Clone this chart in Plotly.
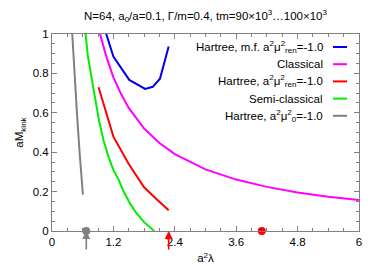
import plotly.graph_objects as go

# ---- data ----
hmf_x = [0.90, 1.06, 1.20, 1.51, 1.82, 1.97, 2.11, 2.28]
hmf_y = [1.13, 1.00, 0.886, 0.767, 0.721, 0.732, 0.773, 0.937]

cls_x = [0.94, 1.05, 1.2, 1.35, 1.5, 1.8, 2.1, 2.4, 3.0, 3.6, 4.2, 4.8, 5.4, 6.0]
cls_y = [1.00, 0.895, 0.78, 0.695, 0.625, 0.52, 0.447, 0.39, 0.313, 0.261, 0.224, 0.196, 0.174, 0.157]

har_x = [0.91, 1.2, 1.5, 1.8, 2.05, 2.28]
har_y = [0.730, 0.479, 0.340, 0.222, 0.160, 0.105]

semi_x = [0.656, 0.70, 0.78, 0.845, 0.92, 1.006, 1.10, 1.2, 1.3, 1.4, 1.527, 1.65, 1.8, 2.0]
semi_y = [1.00, 0.89, 0.767, 0.665, 0.56, 0.462, 0.38, 0.309, 0.262, 0.20, 0.139, 0.09, 0.045, 0.0]

h0_x = [0.396, 0.435, 0.487, 0.539, 0.604]
h0_y = [1.00, 0.80, 0.60, 0.40, 0.185]

dot_gray_x = [0.67]
dot_red_x = [4.10]
arrow_gray_x = 0.67
arrow_red_x = 2.28

x_ticks = [0, 1.2, 2.4, 3.6, 4.8, 6]
x_labels = ["0", "1.2", "2.4", "3.6", "4.8", "6"]
y_ticks = [0, 0.2, 0.4, 0.6, 0.8, 1.0]
y_labels = ["0", "0.2", "0.4", "0.6", "0.8", "1"]

legend_names = [
    "Hartree, m.f. a<sup>2</sup>μ<sup>2</sup><sub>ren</sub>=-1.0",
    "Classical",
    "Hartree, a<sup>2</sup>μ<sup>2</sup><sub>ren</sub>=-1.0",
    "Semi-classical",
    "Hartree, a<sup>2</sup>μ<sup>2</sup><sub>0</sub>=-1.0",
]
colors = ["#0000ee", "#ff00ff", "#ff0000", "#00ee00", "#808080"]

FONT = "Liberation Sans, Arial, sans-serif"
L, R, T, B = 52, 359, 34, 231
W, H = 380, 266

fig = go.Figure()

series = [(hmf_x, hmf_y), (cls_x, cls_y), (har_x, har_y), (semi_x, semi_y), (h0_x, h0_y)]
for (xs, ys), c, n in zip(series, colors, legend_names):
    fig.add_trace(go.Scatter(x=xs, y=ys, mode="lines", line=dict(color=c, width=2),
                             name=n, showlegend=False))

fig.add_trace(go.Scatter(x=dot_gray_x, y=[0] * len(dot_gray_x), mode="markers",
                         marker=dict(color="#808080", size=8), cliponaxis=False, showlegend=False))
fig.add_trace(go.Scatter(x=dot_red_x, y=[0] * len(dot_red_x), mode="markers",
                         marker=dict(color="#ff0000", size=8), cliponaxis=False, showlegend=False))

for ax_x, c in [(arrow_gray_x, "#808080"), (arrow_red_x, "#ff0000")]:
    fig.add_annotation(x=ax_x, y=0, xref="x", yref="y", ax=0, ay=20, text="",
                       showarrow=True, arrowhead=2, arrowsize=1, arrowwidth=1.6,
                       arrowcolor=c, standoff=0)

# manual legend (text right-aligned, sample line on right)
leg_y0 = 47
leg_dy = 17.2
for i, (n, c) in enumerate(zip(legend_names, colors)):
    ypx = leg_y0 + i * leg_dy
    yp = 1 - (ypx - T) / (B - T)
    fig.add_annotation(x=(325 - L) / (R - L), y=yp, xref="paper", yref="paper", text=n,
                       showarrow=False, xanchor="right", yanchor="middle",
                       font=dict(family=FONT, size=11.5, color="black"))
    fig.add_shape(type="line", xref="paper", yref="paper",
                  x0=(333 - L) / (R - L), x1=(347 - L) / (R - L), y0=yp, y1=yp,
                  line=dict(color=c, width=2))

axis_common = dict(showgrid=False, zeroline=False, showline=True, linecolor="#808080",
                   linewidth=1, mirror="ticks", ticks="inside", ticklen=5,
                   tickcolor="#808080", tickwidth=1, automargin=False,
                   tickfont=dict(family=FONT, size=11.5, color="black"))

fig.update_xaxes(range=[0, 6], tickvals=x_ticks, ticktext=x_labels,
                 minor=dict(dtick=0.3, ticks="inside", ticklen=3, tickcolor="#808080"),
                 title=dict(text="a<sup>2</sup>λ", font=dict(family=FONT, size=11.5), standoff=7),
                 **axis_common)
fig.update_yaxes(range=[0, 1], tickvals=y_ticks, ticktext=y_labels,
                 minor=dict(dtick=0.05, ticks="inside", ticklen=3, tickcolor="#808080"),
                 title=dict(text="aM<sub>kink</sub>", font=dict(family=FONT, size=11.5), standoff=6),
                 **axis_common)

fig.update_layout(
    width=W, height=H, autosize=False,
    margin=dict(l=L, r=W - R, t=T, b=H - B, pad=0, autoexpand=False),
    paper_bgcolor="white", plot_bgcolor="white",
    title=dict(text="N=64, a<sub>0</sub>/a=0.1, Γ/m=0.4, tm=90×10<sup>3</sup>…100×10<sup>3</sup>",
               x=0.5, xref="paper", y=1 - 16 / H, yanchor="middle",
               font=dict(family=FONT, size=11.5, color="black")),
    font=dict(family=FONT, size=11.5, color="black"),
)

fig.write_html("out.html", config={"displayModeBar": False},
               post_script="document.body.style.margin='0';")
